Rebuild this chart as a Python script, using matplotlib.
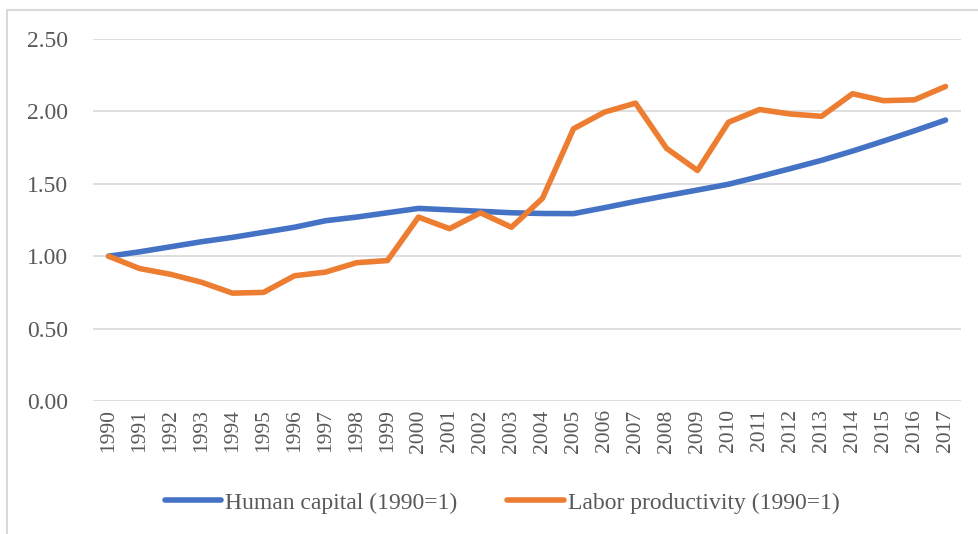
import matplotlib
matplotlib.use("Agg")
import matplotlib.pyplot as plt
from matplotlib.patches import Rectangle

# Series values (1990 = 1)
years = [str(y) for y in range(1990, 2018)]
human_capital = [1.00, 1.03, 1.065, 1.10, 1.13, 1.165, 1.20, 1.245, 1.27, 1.30,
                 1.33, 1.32, 1.31, 1.30, 1.295, 1.294, 1.335, 1.378, 1.418, 1.457,
                 1.497, 1.55, 1.605, 1.662, 1.726, 1.795, 1.866, 1.94]
labor_productivity = [1.00, 0.915, 0.875, 0.82, 0.745, 0.75, 0.865, 0.89, 0.955, 0.97,
                      1.27, 1.19, 1.30, 1.20, 1.40, 1.88, 1.995, 2.057, 1.745, 1.592,
                      1.925, 2.013, 1.982, 1.966, 2.122, 2.074, 2.08, 2.172]
yticks = [0.0, 0.5, 1.0, 1.5, 2.0, 2.5]

plt.rcParams["font.family"] = ["Liberation Serif", "DejaVu Serif"]
txt = "#595959"

fig = plt.figure(figsize=(9.79, 5.34), dpi=100)
W, H = 979, 534

# chart frame
fig.patches.append(Rectangle((7 / W, -0.1), 1.2, 1 - 10 / H + 0.1,
                             transform=fig.transFigure, fill=False,
                             edgecolor="#d9d9d9", linewidth=1.5))

ax = fig.add_axes([93 / W, 1 - 401 / H, (961 - 93) / W, (401 - 39) / H])
x = list(range(len(years)))
ax.plot(x, human_capital, color="#4472C4", lw=4, solid_capstyle="round",
        label="Human capital (1990=1)", zorder=3)
ax.plot(x, labor_productivity, color="#ED7D31", lw=4, solid_capstyle="round",
        solid_joinstyle="round", label="Labor productivity (1990=1)", zorder=4)

ax.set_xlim(-0.5, len(years) - 0.5)
ax.set_ylim(0, 2.5)
ax.set_yticks(yticks)
ax.set_yticklabels([f"{v:.2f}" for v in yticks])
ax.set_xticks(x)
ax.set_xticklabels(years, rotation=90)
ax.grid(axis="y", color="#d9d9d9", lw=1.2)
ax.set_axisbelow(True)
for s in ax.spines.values():
    s.set_visible(False)
ax.tick_params(axis="both", length=0, colors=txt)
ax.tick_params(axis="y", pad=18, labelsize=17)
ax.tick_params(axis="x", pad=6, labelsize=15.5)

fig.legend(loc="center", bbox_to_anchor=(502 / W, 1 - 503 / H), ncol=2,
           frameon=False, fontsize=17, labelcolor=txt, handlelength=2.4,
           handletextpad=0.17, columnspacing=2.1)

fig.savefig("out.png", dpi=100)
